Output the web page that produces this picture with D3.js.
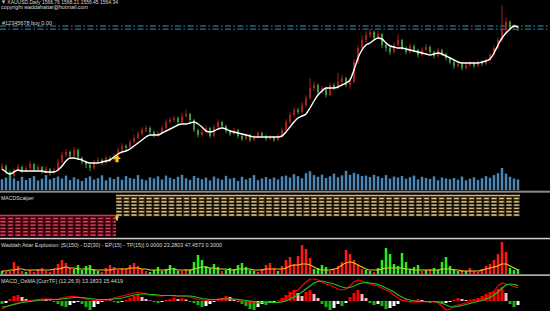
<!DOCTYPE html>
<html><head><meta charset="utf-8">
<script src="https://cdn.jsdelivr.net/npm/d3@7/dist/d3.min.js"></script>
<style>html,body{margin:0;padding:0;background:#000;overflow:hidden}svg{display:block}</style>
</head><body>
<svg id="c" width="550" height="311"></svg>
<script>
// ---------- DATA ----------
const opens = [1212,1219,1204,1194,1209,1216.5,1206.5,1214,1224,1209,1216.5,1204,1211.5,1201.5,
1209,1229,1246.5,1254,1244,1259,1239,1229,1221.5,1214,1229,1234,1226.5,1239,1234,
1244,1259,1269,1264,1279,1289,1299,1309,1314,1304,1296.5,1301.5,1314,1329,1334,1339,1329,1344,1349,1334,1309,
1296.5,1304,1314,1294,1316.5,1329,1319,1306.5,1299,1309,1294,1286.5,1296.5,1284,1291.5,1301.5,1294,1286.5,1291.5,1284,1294,
1309,1329,1346.5,1359,1354,1371.5,1389,1414,1421.5,1404,1414,1396.5,1421.5,1414,1429,1439,1421.5,
1429,1479,1514,1534,1546.5,1554,1539,1549,1521.5,1514,1504,1521.5,
1534,1514,1504,1519,1509,1496.5,1509,1516.5,1504,1494,1509,1499,1489,1479,1469,1474,1464,1471.5,1476.5,1469,1479,1474,1484,
1496.5,1514,1534,1559,1579,1564,1566.76];
const highs = [1226,1223,1208,1214,1223,1220,1219,1232,1227,1222,1219,1218,1214,1215,
1236,1254,1262,1258,1266,1262,1243,1233,1226,1235,1241,1238,1245,1243,1250,
1265,1276,1273,1285,1297,1306,1316,1320,1318,1308,1307,1320,1336,1341,1345,1343,1352,1360,1352,1337,1312,
1310,1320,1317,1322,1336,1332,1322,1310,1314,1312,1298,1301,1299,1296,1307,1305,1297,1296,1294,1299,1315,
1336,1353,1366,1364,1378,1396,1438,1430,1425,1420,1417,1427,1426,1452,1446,1442,1434,
1486,1521,1545,1556,1562,1558,1557,1552,1528,1518,1528,1548,
1537,1518,1525,1523,1512,1516,1524,1520,1508,1515,1512,1502,1492,1483,1480,1477,1478,1482,1480,1485,1483,1490,1502,
1520,1541,1621,1590,1583,1574,1568.21];
const lows = [1207,1198,1186,1190,1205,1201,1203,1210,1204,1205,1199,1200,1195,1198,
1206,1226,1241,1238,1240,1234,1223,1214,1206,1210,1225,1221,1223,1229,1231,
1241,1254,1258,1261,1275,1285,1295,1304,1298,1290,1292,1298,1310,1325,1329,1323,1326,1340,1328,1304,1290,
1292,1300,1289,1291,1313,1314,1301,1294,1296,1288,1281,1283,1279,1281,1288,1290,1282,1283,1279,1281,1291,
1306,1325,1342,1348,1350,1367,1385,1408,1398,1399,1390,1393,1409,1410,1424,1416,1412,
1426,1474,1509,1529,1540,1532,1535,1514,1505,1496,1500,1518,
1509,1498,1500,1503,1490,1493,1505,1499,1488,1491,1494,1483,1473,1462,1465,1458,1460,1467,1464,1466,1469,1471,1481,
1493,1510,1530,1552,1558,1559,1556.45];
const closes = [1219,1204,1194,1209,1216.5,1206.5,1214,1224,1209,1216.5,1204,1211.5,1201.5,1209,
1229,1246.5,1254,1244,1259,1239,1229,1221.5,1214,1229,1234,1226.5,1239,1234,1244,
1259,1269,1264,1279,1289,1299,1309,1314,1304,1296.5,1301.5,1314,1329,1334,1339,1329,1344,1349,1334,1309,1296.5,
1304,1314,1294,1316.5,1329,1319,1306.5,1299,1309,1294,1286.5,1296.5,1284,1291.5,1301.5,1294,1286.5,1291.5,1284,1294,1309,
1329,1346.5,1359,1354,1371.5,1389,1414,1421.5,1404,1414,1396.5,1421.5,1414,1429,1439,1421.5,1429,
1479,1514,1534,1546.5,1554,1539,1549,1521.5,1514,1504,1521.5,1534,
1514,1504,1519,1509,1496.5,1509,1516.5,1504,1494,1509,1499,1489,1479,1469,1474,1464,1471.5,1476.5,1469,1479,1474,1484,1496.5,
1514,1534,1559,1579,1564,1566.76,1564.34];
const maLine = [1211.5,1204,1199,1204,1209,1206.5,1206.5,1206.5,1206.5,1206.5,1206.5,1204,1204,1204,
1209,1219,1231.5,1239,1239,1236.5,1234,1229,1226.5,1226.5,1226.5,1229,1231.5,1234,1241.5,
1249,1254,1256.5,1261.5,1269,1276.5,1284,1291.5,1296.5,1296.5,1296.5,1301.5,1306.5,1311.5,1316.5,1321.5,1324,1324,1326.5,1329,1324,
1316.5,1306.5,1304,1306.5,1311.5,1314,1311.5,1306.5,1304,1301.5,1299,1296.5,1294,1291.5,1291.5,1291.5,1291.5,1291.5,1291.5,1291.5,1294,
1304,1316.5,1329,1339,1344,1349,1364,1381.5,1396.5,1406.5,1414,1414,1414,1416.5,1421.5,1426.5,1434,
1459,1489,1509,1521.5,1526.5,1534,1539,1536.5,1526.5,1519,1516.5,1514,
1514,1511.5,1509,1506.5,1504,1501.5,1499,1496.5,1499,1501.5,1499,1494,1489,1484,1479,1476.5,1476.5,1476.5,1476.5,1476.5,1479,1481.5,1486.5,
1501.5,1521.5,1539,1551.5,1561.5,1569,1566.5];
const volumes = [45,52,60,48,38,55,42,50,58,40,47,62,44,50,
56,48,60,42,53,45,38,50,57,44,49,61,40,52,46,
55,43,58,50,47,62,45,40,53,48,57,44,60,51,46,55,63,49,42,58,50,
45,52,40,56,48,43,59,47,51,38,55,44,50,62,41,48,54,46,52,44,57,
60,52,66,58,49,70,78,62,55,64,50,57,68,53,61,80,63,
72,66,58,60,54,63,57,50,62,48,56,52,
58,47,53,60,44,55,50,46,57,41,52,48,45,50,43,56,40,47,53,42,49,58,51,
62,70,92,68,55,48,44];
const orderLevels = [1569, 1561];
const buyArrows = [{index: 29, price: 1246}];
const scalperSegments = [{from: 0, to: 28, state: -1}, {from: 29, to: 129, state: 1}];
const waeTrend = [-3,2,3,12,8,3,-2,4,2,5,6,3,2,5,
10,14,11,6,-5,-9,-4,-8,-9,-5,-3,2,6,9,7,
4,6,5,9,11,8,5,3,-2,-4,-7,-3,-5,-9,-6,-3,3,5,-4,-12,-19,
-14,-8,-6,-10,-7,3,-4,-6,-5,-9,-11,-7,-4,-3,2,5,9,11,6,-3,8,
14,17,10,18,29,25,16,-5,-6,-9,-7,3,5,8,12,24,20,
14,9,5,-4,-3,2,-6,-14,-26,-20,-10,-8,
-21,-12,-5,-7,-9,3,-4,5,-6,-4,-12,-17,-8,-5,-3,4,-3,6,3,2,5,8,10,
14,20,32,22,-6,-4,-5];
const waeExplosion = [3,3,4,4,5,5,4,4,4,4,4,4,4,5,
5,6,7,6,6,5,5,5,5,4,4,4,4,4,5,
5,5,5,6,6,6,5,5,4,4,4,4,4,5,5,4,4,4,4,5,6,
7,7,6,6,5,5,5,4,4,5,5,5,5,4,4,4,5,5,5,5,5,
6,8,9,9,10,10,9,7,5,4,4,4,5,6,9,11,12,
11,9,7,5,4,4,4,5,6,6,6,6,
6,5,5,4,4,4,4,4,4,4,5,5,5,4,4,3,3,3,3,3,4,5,6,
7,8,10,10,8,6,4];
const macdMain = [-8,-6,-4.5,-3,-2,-1,0,0.5,1,1.5,2,2,2,1.5,
2,3,4,4.5,4.5,4,3,2,1,0.5,0.5,1,1.5,2,3,
4,5,6,7,8,8.5,8,7,6,5.5,5,5,5.5,5.5,5,5,5,5,4,3,1.5,
1,0.5,1,1.5,2,2.5,2.5,2,1.5,1,0,-1,-1.5,-2,-2,-1.5,-1,-1,-1.5,-1,0,
3,6,9,11,15,19,22,22,21,19,17,16,14,12,11,12,15,
19,21,20,18,17,16,15,13,11,9,6,3,
1,0,-1,-1,-1,-0.5,-1,-0.5,-1,-2,-5,-9,-8,-5,-4,-3,-2,-1,0,1,2,4,6,
10,15,18,17,16,14.5,13.18];
const macdSignal = [-6,-5.5,-4.5,-3.5,-2.5,-1.5,-1,-0.5,0,0.5,1,1.5,1.5,1.5,
1.5,2,2.5,3,3.5,3.5,3.5,3,2.5,2,1.5,1.5,1.5,1.5,2,
2.5,3,4,5,6,6.5,7,7,6.5,6.5,6,5.5,5.5,5.5,5.5,5,5,5,5,4.5,3.5,
2.5,2,1.5,1.5,1.5,2,2,2,2,1.5,1,0.5,0,-0.5,-1,-1.5,-1.5,-1.5,-1.5,-1.5,-1,
0,2,4,6,9,12,15,18,19.5,20,19,18,17,15.5,14,13,13.5,
15,17,18,18.5,18,17.5,16.5,15,13,11,9,6,
4,2,1,0,-0.5,-0.5,-0.5,-0.5,-0.5,-1,-2,-4,-5.5,-6,-5.5,-4.5,-3.5,-2.5,-1.5,-0.5,0.5,2,3.5,
6,9,13,16,17,16.5,15.44];
const osma = [-3,-2,2,5,6,4,2,1,0.5,1,2,1.5,0.5,-1,
-3,-5,-6,-4,-2,-1,-3,-6,-9,-6,-3,-1,1,0.5,-1,
-2,-1,1,3,5,6,4,2,0.5,-1,-2,-1,1,2,3,2,3,1.5,-1,-2,-4,
-6,-5,-3,-1,1,3,5,4,2,-1,-3,-5,-8,-9,-6,-3,-4,-2,-1,0.5,3,
6,9,11,8,5,9,11,7,3,-3,-6,-9,-7,-3,-5,-2,4,
8,11,7,3,-2,-4,-3,-5,-8,-7,-5,-3,
1,2,-1,1,2,1,-1,-2,-1,-1.5,-3,-2,-1,1,3,2,1,1.5,2,3,5,7,9,
10,12,14,8,-3,-6,-4];
const headerText = "\u25BC XAUUSD,Daily  1566.76 1568.21 1556.45 1564.34";
const copyrightText = "copyright waddahattar@hotmail.com";
const orderText = "#12345678 buy 0.00";
const scalperLabel = "MACDScalper";
const waeLabel = "Waddah Attar Explosion: [S(150) - DZ(30) - EP(15) - TP(15)] 0.0000 23.2803 47.4573 0.3000";
const macdLabel = "MACD_OsMA [CurrTF] (12,26,9) 13.1833 15.4419";

// ---------- DRAW ----------
const N = closes.length;
const idx = d3.range(N);
const svg = d3.select('#c');
svg.append('rect').attr('width',550).attr('height',311).attr('fill','#000');
const defs = svg.append('defs');
function clip(id,y0,y1){defs.append('clipPath').attr('id',id).append('rect').attr('x',0).attr('y',y0).attr('width',550).attr('height',y1-y0);}
clip('cMain',0,190.5); clip('cScal',193,238); clip('cWae',239.5,274.5); clip('cMacd',276,311);
const vg = defs.append('linearGradient').attr('id','vg').attr('x1',0).attr('x2',1).attr('y1',0).attr('y2',0);
vg.append('stop').attr('offset','0%').attr('stop-color','#163f63');
vg.append('stop').attr('offset','50%').attr('stop-color','#6fa8d4');
vg.append('stop').attr('offset','100%').attr('stop-color','#163f63');

const x = d3.scaleLinear().domain([0, N-1]).range([2, 518]);
const yP = d3.scaleLinear().domain([1634, 1156.5]).range([0, 191]);
const yV = d3.scaleLinear().domain([0, 100]).range([190, 166]);
const yW = d3.scaleLinear().domain([0, 34]).range([274, 240]);
const yM = d3.scaleLinear().domain([-10, 26]).range([311, 275]);

// main pane
const main = svg.append('g').attr('clip-path','url(#cMain)');
main.append('g').selectAll('rect').data(idx).join('rect')
  .attr('x', i => x(i)-1.5).attr('width',3)
  .attr('y', i => yV(volumes[i])).attr('height', i => yV(0)-yV(volumes[i]))
  .attr('fill','url(#vg)');
orderLevels.forEach((p,k) => {
  main.append('line').attr('x1',0).attr('x2',550).attr('y1',yP(p)).attr('y2',yP(p))
    .attr('stroke', k===0 ? '#3f8cb8' : '#2c7099').attr('stroke-width',1.2)
    .attr('stroke-dasharray','6,2.5,1.5,2.5');
});
const upC = '#a81c1c', dnC = '#3c963c';
const cg = main.append('g');
cg.selectAll('line').data(idx).join('line')
  .attr('x1', i => x(i)).attr('x2', i => x(i))
  .attr('y1', i => yP(highs[i])).attr('y2', i => yP(lows[i]))
  .attr('stroke', i => closes[i] >= opens[i] ? upC : dnC).attr('stroke-width',1);
cg.selectAll('rect').data(idx).join('rect')
  .attr('x', i => x(i)-1).attr('width',2)
  .attr('y', i => yP(Math.max(opens[i],closes[i])))
  .attr('height', i => Math.max(1, Math.abs(yP(opens[i])-yP(closes[i]))))
  .attr('fill', i => closes[i] >= opens[i] ? upC : dnC);
main.append('path').datum(idx)
  .attr('d', d3.line().x(i => x(i)).y(i => yP(maLine[i])).curve(d3.curveMonotoneX))
  .attr('fill','none').attr('stroke','#fff').attr('stroke-width',1.4);
function arrowPath(cx, top, w, h){
  const hw=w/2, sw=w*0.2, hh=h*0.55;
  return `M${cx},${top} L${cx+hw},${top+hh} L${cx+sw},${top+hh} L${cx+sw},${top+h} L${cx-sw},${top+h} L${cx-sw},${top+hh} L${cx-hw},${top+hh} Z`;
}
buyArrows.forEach(a => {
  main.append('path').attr('d', arrowPath(x(a.index)-1, yP(a.price), 8, 7)).attr('fill','#f2c40f');
});
const txt = (s, tx, ty, len, fs) => svg.append('text').attr('x',tx).attr('y',ty).text(s)
  .attr('font-family','Liberation Sans, Arial, sans-serif').attr('font-size',fs||6)
  .attr('fill','#d8d8d8').attr('textLength',len).attr('lengthAdjust','spacingAndGlyphs');
txt(headerText, 1, 3.6, 117);
txt(copyrightText, 1, 9.4, 87);
txt(orderText, 2, 24.5, 50);

// separators
svg.append('rect').attr('x',0).attr('y',190.7).attr('width',550).attr('height',2).attr('fill','#8a8a8a');
svg.append('rect').attr('x',0).attr('y',237.8).attr('width',550).attr('height',1.5).attr('fill','#d0d0d0');
svg.append('rect').attr('x',0).attr('y',274.4).attr('width',550).attr('height',1.5).attr('fill','#c4c4c4');

// MACDScalper pane
const sc = svg.append('g').attr('clip-path','url(#cScal)');
scalperSegments.forEach(s => {
  const x0 = Math.max(0, x(s.from)-2), x1 = x(s.to)+2;
  const gold = s.state > 0;
  const top = gold ? 195.5 : 215.5;
  const rows = d3.range(6).map(k => top + 3 + k*3.3);
  sc.append('rect').attr('x',x0).attr('y',top).attr('width',x1-x0).attr('height',21.5)
    .attr('fill', gold ? '#120d03' : '#24030a');
  rows.forEach(r => {
    sc.append('line').attr('x1',x0).attr('x2',x1).attr('y1',r).attr('y2',r)
      .attr('stroke', gold ? '#8c7442' : '#9a1a30').attr('stroke-width',1.9).attr('stroke-dasharray','6,1.5');
    sc.append('line').attr('x1',x0+1).attr('x2',x1).attr('y1',r).attr('y2',r)
      .attr('stroke', gold ? '#f2e6c6' : '#f05a74').attr('stroke-width',0.8).attr('stroke-dasharray','4,3.5');
  });
  sc.append('line').attr('x1',x0).attr('x2',x1).attr('y1',top).attr('y2',top)
    .attr('stroke', gold ? '#e8b04a' : '#e0304a').attr('stroke-width',1.4);
});
buyArrows.forEach(a => {
  sc.append('path').attr('d', arrowPath(x(a.index)-1, 214.5, 5, 6)).attr('fill','#f2c40f');
});
txt(scalperLabel, 1, 200, 33);

// Waddah pane
const wg = svg.append('g').attr('clip-path','url(#cWae)');
wg.selectAll('rect').data(idx).join('rect')
  .attr('x', i => x(i)-1.25).attr('width',2.5)
  .attr('y', i => yW(Math.abs(waeTrend[i]))).attr('height', i => yW(0)-yW(Math.abs(waeTrend[i])))
  .attr('fill', i => waeTrend[i] >= 0 ? '#ff1a1a' : '#22ee22');
wg.append('path').datum(idx)
  .attr('d', d3.line().x(i => x(i)).y(i => yW(waeExplosion[i])).curve(d3.curveMonotoneX))
  .attr('fill','none').attr('stroke','#f2c21b').attr('stroke-width',1.2);
txt(waeLabel, 1, 246.5, 221);

// MACD pane
const mg = svg.append('g').attr('clip-path','url(#cMacd)');
mg.selectAll('rect').data(idx).join('rect')
  .attr('x', i => x(i)-1.5).attr('width',3)
  .attr('y', i => Math.min(yM(0), yM(osma[i]))).attr('height', i => Math.abs(yM(osma[i])-yM(0)))
  .attr('fill', i => {
    const v = osma[i], p = i ? osma[i-1] : v;
    if (v >= 0) return v >= p ? '#ff0000' : '#ffb6c1';
    return v <= p ? '#16b516' : '#ffffff';
  });
mg.append('path').datum(idx)
  .attr('d', d3.line().x(i => x(i)).y(i => yM(macdMain[i])))
  .attr('fill','none').attr('stroke','#ff0000').attr('stroke-width',1.2);
mg.append('path').datum(idx)
  .attr('d', d3.line().x(i => x(i)).y(i => yM(macdSignal[i])))
  .attr('fill','none').attr('stroke','#1fc41f').attr('stroke-width',1.2);
txt(macdLabel, 1, 283, 122);
</script>
</body></html>
